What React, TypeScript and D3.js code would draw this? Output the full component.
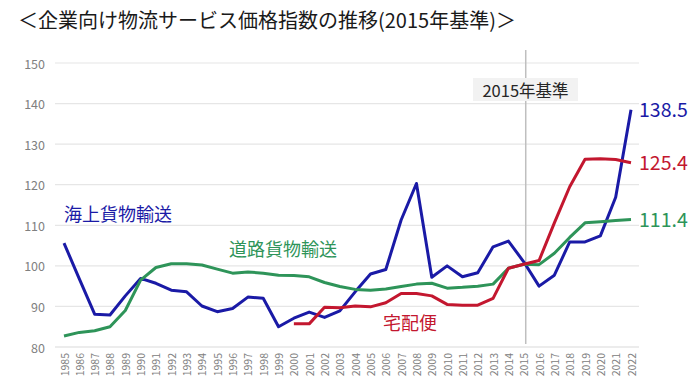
import React from "react";
import * as d3 from "d3";

const years: number[] = [];
for (let y = 1985; y <= 2022; y++) years.push(y);

const seaFreight: (number | null)[] = [
  105.6, 96.8, 88.1, 87.9, 92.6, 96.9, 95.7, 94.0, 93.6, 90.1,
  88.7, 89.5, 92.3, 92.0, 85.0, 87.1, 88.6, 87.3, 88.9, 93.6,
  98.0, 99.1, 111.3, 120.3, 97.2, 100.0, 97.3, 98.3, 104.7, 106.1,
  101.0, 95.0, 97.7, 105.9, 105.9, 107.4, 116.9, 138.5,
];
const roadFreight: (number | null)[] = [
  82.7, 83.6, 84.0, 85.0, 89.0, 96.5, 99.6, 100.5, 100.5, 100.2,
  99.2, 98.2, 98.5, 98.2, 97.7, 97.6, 97.3, 95.9, 94.9, 94.2,
  94.0, 94.3, 94.9, 95.5, 95.7, 94.5, 94.7, 95.0, 95.5, 99.4,
  100.4, 100.3, 103.1, 107.0, 110.6, 110.9, 111.2, 111.4,
];
const parcel: (number | null)[] = [
  null, null, null, null, null, null, null, null, null, null,
  null, null, null, null, null, 85.7, 85.7, 89.8, 89.7, 90.1,
  89.9, 90.9, 93.2, 93.2, 92.6, 90.5, 90.3, 90.3, 92.0, 99.4,
  100.4, 101.3, 110.6, 119.5, 126.3, 126.4, 126.2, 125.4,
];
const yTicks = [80, 90, 100, 110, 120, 130, 140, 150];

const TITLE = "＜企業向け物流サービス価格指数の推移(2015年基準)＞";
const BASE_LABEL = "2015年基準";

const series = [
  { name: "海上貨物輸送", values: seaFreight, color: "#1a1aa6", end: "138.5" },
  { name: "道路貨物輸送", values: roadFreight, color: "#2e9459", end: "111.4" },
  { name: "宅配便", values: parcel, color: "#c3172f", end: "125.4" },
];

const FONT = "'Noto Sans CJK JP', 'Noto Sans', sans-serif";

export default function App() {
  const x = d3.scalePoint<number>().domain(years).range([64, 631]);
  const y = d3.scaleLinear().domain([80, 150]).range([347, 63]);
  const line = d3
    .line<number | null>()
    .defined((d) => d !== null)
    .x((_, i) => x(years[i]) as number)
    .y((d) => y(d as number));

  const lastIdx = years.length - 1;
  const xBase = (x(2015) as number) + 2;

  const nameLabels = [
    { text: "海上貨物輸送", color: series[0].color, x: 64, y: 221 },
    { text: "道路貨物輸送", color: series[1].color, x: 229, y: 256 },
    { text: "宅配便", color: series[2].color, x: 383, y: 330 },
  ];

  return (
    <svg
      width={700}
      height={386}
      style={{ position: "absolute", left: 0, top: 0, background: "#fff" }}
      fontFamily={FONT}
    >
      <text x={18} y={28} fontSize={20} fill="#1a1a1a">
        {TITLE}
      </text>
      {yTicks.map((t) => (
        <g key={t}>
          <line
            x1={55}
            x2={639}
            y1={y(t)}
            y2={y(t)}
            stroke={t === 80 ? "#d9d9d9" : "#e6e6e6"}
            strokeWidth={1.2}
          />
          <text
            x={45}
            y={y(t)}
            textAnchor="end"
            dominantBaseline="central"
            fontSize={12.5}
            fill="#808080"
          >
            {t}
          </text>
        </g>
      ))}
      {years.map((yr) => (
        <text
          key={yr}
          transform={`translate(${x(yr)},353) rotate(-90)`}
          textAnchor="end"
          dominantBaseline="central"
          fontSize={10.5}
          fill="#808080"
        >
          {yr}
        </text>
      ))}
      <line x1={xBase} x2={xBase} y1={50} y2={344} stroke="#bfbfbf" strokeWidth={1.5} />
      <rect x={473} y={78} width={105} height={23} fill="#f2f2f2" />
      <text
        x={525.5}
        y={89.5}
        textAnchor="middle"
        dominantBaseline="central"
        fontSize={16.5}
        fill="#262626"
      >
        {BASE_LABEL}
      </text>
      {series.map((s) => (
        <path
          key={s.name}
          d={line(s.values) || ""}
          fill="none"
          stroke={s.color}
          strokeWidth={3}
          strokeLinejoin="round"
        />
      ))}
      {series.map((s) => (
        <text
          key={s.name + "end"}
          x={639}
          y={y(s.values[lastIdx] as number) - 1.5}
          dominantBaseline="central"
          fontSize={19.5}
          fill={s.color}
        >
          {s.end}
        </text>
      ))}
      {nameLabels.map((l) => (
        <text key={l.text} x={l.x} y={l.y} fontSize={18} fill={l.color}>
          {l.text}
        </text>
      ))}
    </svg>
  );
}
